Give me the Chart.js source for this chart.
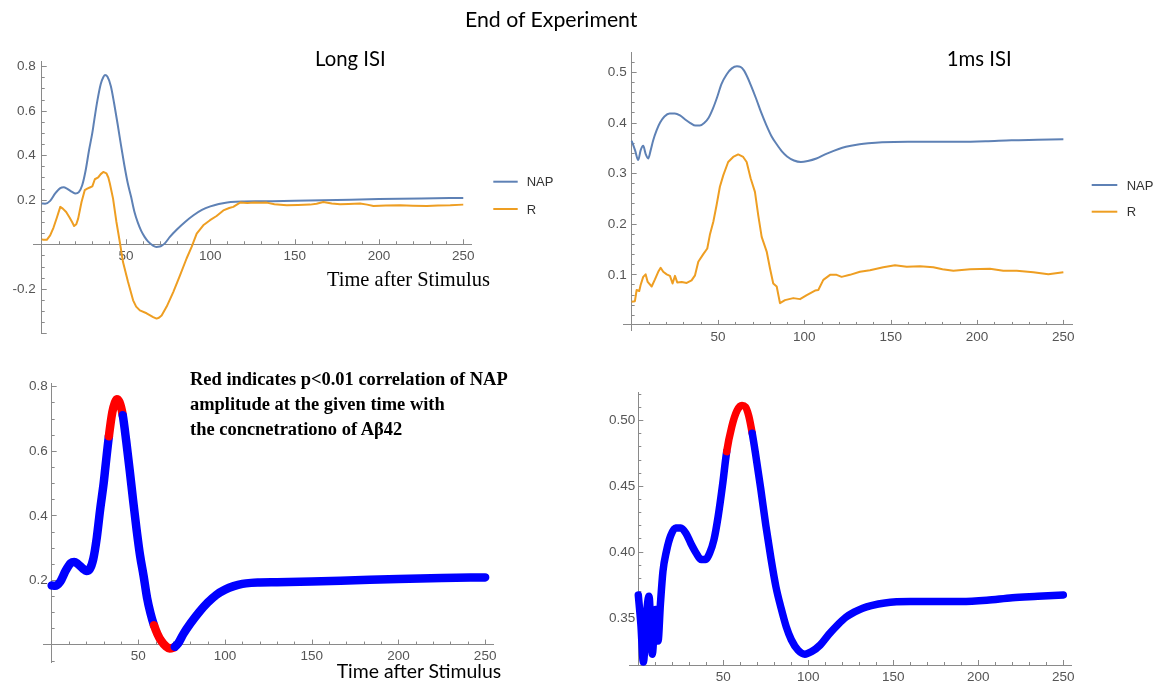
<!DOCTYPE html>
<html><head><meta charset="utf-8">
<script src="https://cdn.jsdelivr.net/npm/chart.js@4.4.1/dist/chart.umd.min.js"></script>
<style>
html,body{margin:0;padding:0;background:#fff;width:1163px;height:684px;overflow:hidden}
.panel{position:absolute}
#overlay{position:absolute;left:0;top:0;width:1163px;height:684px;pointer-events:none}
</style></head><body>
<div class="panel" id="p1"><canvas></canvas></div>
<div class="panel" id="p2"><canvas></canvas></div>
<div class="panel" id="p3"><canvas></canvas></div>
<div class="panel" id="p4"><canvas></canvas></div>
<svg id="overlay" xmlns="http://www.w3.org/2000/svg" width="1163" height="684"></svg>
<script>
// ---------------- data ----------------
const SERIES_NAMES = ['NAP', 'R'];

// Long ISI, NAP
const TIME_NAP_LONG = [0,2,5,8,11,13,15,18,20,22,24,26,28,30,31,33,35,36.5,37.5,39,41,43,45,47,49,51,53,55,57,59,61,63,66,68,70,71,73,76,80,85,90,95,100,105,110,115,120,130,150,175,200,225,250];
const NAP_LONG = [0.183,0.182,0.195,0.228,0.252,0.256,0.25,0.235,0.228,0.234,0.265,0.33,0.42,0.50,0.55,0.645,0.72,0.75,0.76,0.752,0.71,0.63,0.54,0.445,0.355,0.275,0.213,0.145,0.097,0.06,0.033,0.013,-0.006,-0.012,-0.01,-0.007,0.004,0.033,0.065,0.1,0.13,0.154,0.17,0.181,0.188,0.191,0.192,0.193,0.195,0.199,0.203,0.206,0.208];

// Long ISI, R
const TIME_R_LONG = [0,1,3,5,7,9,11,12.5,14.5,16.5,18,19.2,20.5,21.6,23.6,25.5,27,28.5,30,31.5,33.5,35,36.5,38.4,39.5,40.4,42.3,44.3,46.3,48.2,51.2,54.2,56,58.2,62.2,66.1,68.1,69.5,71.1,74.1,78,82,85.9,88.9,91.9,95.8,99.8,103.7,107.7,111.2,113.6,117.6,122,126,130,133.4,138,145.3,152,159.1,163,167,172,176.9,182,188.8,193,196.7,204,212.6,220,228.4,235,242.3,250];
const R_LONG = [0.022,0.02,0.02,0.04,0.075,0.12,0.168,0.16,0.145,0.12,0.1,0.082,0.09,0.115,0.19,0.243,0.25,0.255,0.26,0.292,0.3,0.315,0.325,0.318,0.3,0.273,0.205,0.1,0.01,-0.08,-0.17,-0.252,-0.28,-0.297,-0.31,-0.327,-0.334,-0.33,-0.32,-0.28,-0.215,-0.14,-0.064,-0.012,0.048,0.085,0.108,0.127,0.152,0.163,0.168,0.187,0.185,0.188,0.186,0.187,0.18,0.175,0.176,0.178,0.182,0.19,0.183,0.18,0.181,0.183,0.178,0.172,0.174,0.175,0.173,0.172,0.174,0.175,0.178];

// 1ms ISI, NAP: early wiggle as drawn in the top panel / bottom panel, then shared tail
const TIME_NAP_1MS_START_TOP = [0,2,3.8,5.2,6.7,8.2,9.6,11,12.5];
const NAP_1MS_START_TOP = [0.364,0.345,0.326,0.345,0.354,0.337,0.329,0.345,0.365];
const TIME_NAP_1MS_START_BOTTOM = [0,1.5,3,4.8,6.3,8.2,10.2,11.6,13];
const NAP_1MS_START_BOTTOM = [0.367,0.345,0.316,0.352,0.366,0.322,0.356,0.332,0.36];
const TIME_NAP_1MS_TAIL = [14.5,16.5,19,22,25,28,31,34,37,39.5,42,44.5,47,49.5,52,55,58,61,63,65,67,69,72,75,78,81,84,87,90,94,98,102,107,112,117,122,127,132,137,145,160,175,190,205,220,235,250];
const NAP_1MS_TAIL = [0.385,0.4,0.412,0.418,0.418,0.414,0.406,0.399,0.394,0.394,0.399,0.409,0.427,0.45,0.476,0.495,0.507,0.511,0.51,0.503,0.49,0.474,0.448,0.42,0.395,0.373,0.357,0.343,0.333,0.325,0.322,0.324,0.329,0.337,0.344,0.35,0.354,0.357,0.359,0.361,0.362,0.362,0.362,0.363,0.365,0.366,0.367];

// 1ms ISI, R
const TIME_R_1MS = [0,1.9,2.9,4.4,5.2,6.7,8.1,9.3,11.6,13.5,15.4,16.8,18.3,20.3,22.2,23.7,25.1,26.4,29,31.9,34.7,36.7,38.6,41.5,43.8,45.3,47.3,49.2,51.1,53.1,55.9,58.8,61.7,64.6,66.6,68.9,71.4,73.3,75.3,78.2,80.1,82,84,85.9,88.8,93.6,97.5,101.4,106.2,108.1,111,114.9,118.7,121.6,126.4,132.2,138,145.7,152.5,159.3,167,174.7,180,186.3,196,207.5,215.2,223,232.6,241.3,250];
const R_1MS = [0.046,0.047,0.069,0.067,0.079,0.095,0.1,0.085,0.076,0.09,0.105,0.113,0.105,0.1,0.097,0.082,0.097,0.084,0.085,0.083,0.088,0.098,0.125,0.14,0.151,0.178,0.204,0.237,0.273,0.296,0.322,0.332,0.337,0.332,0.322,0.29,0.263,0.217,0.174,0.145,0.112,0.082,0.076,0.043,0.049,0.053,0.051,0.059,0.068,0.069,0.089,0.099,0.099,0.095,0.099,0.105,0.108,0.114,0.118,0.115,0.116,0.114,0.11,0.107,0.11,0.111,0.107,0.107,0.104,0.1,0.104];

// time windows where the correlation is significant (red)
const SIGNIFICANT_LONG = [[33, 41], [59, 71]];
const SIGNIFICANT_1MS = [[52, 67]];

// tick labels
const X_TICKS = [50, 100, 150, 200, 250];
const X_TICK_LABELS = ['50', '100', '150', '200', '250'];
const Y_TICKS_P1 = [-0.2, 0.2, 0.4, 0.6, 0.8];
const Y_TICK_LABELS_P1 = ['-0.2', '0.2', '0.4', '0.6', '0.8'];
const Y_TICKS_P2 = [0.1, 0.2, 0.3, 0.4, 0.5];
const Y_TICK_LABELS_P2 = ['0.1', '0.2', '0.3', '0.4', '0.5'];
const Y_TICKS_P3 = [0.2, 0.4, 0.6, 0.8];
const Y_TICK_LABELS_P3 = ['0.2', '0.4', '0.6', '0.8'];
const Y_TICKS_P4 = [0.35, 0.40, 0.45, 0.50];
const Y_TICK_LABELS_P4 = ['0.35', '0.40', '0.45', '0.50'];

// ---------------- styles ----------------
const NAP_COLOR = '#5E81B5';
const R_COLOR = '#EE9E22';
const SIG_COLOR = '#FF0000';
const NONSIG_COLOR = '#0000FF';
const AXIS_COLOR = '#8a8a8a';
const LABEL_COLOR = '#555555';
const TICK_FONT = {family: 'Liberation Sans, Arial, sans-serif', size: 13.5};

const pts = (xs, ys) => xs.map((x, i) => ({x, y: ys[i]}));
const inWindows = (wins) => (ctx) => wins.some(([a, b]) => ctx.p0.parsed.x >= a - 1e-9 && ctx.p1.parsed.x <= b + 1e-9) ? SIG_COLOR : NONSIG_COLOR;

// Mathematica-style inward ticks on axes crossing inside the frame, plus y labels left of the y axis
const axisTicks = {
  id: 'axisTicks',
  beforeDatasetsDraw(chart, args, o) {
    const {ctx} = chart;
    const xs = chart.scales.x, ys = chart.scales.y;
    const yAxisPx = xs.getPixelForValue(0);
    const xAxisPx = ys.getPixelForValue(o.xAt);
    ctx.save();
    ctx.strokeStyle = AXIS_COLOR;
    ctx.lineWidth = 1;
    ctx.beginPath();
    const k0 = Math.ceil(xs.min / o.xMinor - 1e-9), k1 = Math.floor(xs.max / o.xMinor + 1e-9);
    for (let k = k0; k <= k1; k++) {
      const v = k * o.xMinor;
      if (k === 0) continue;
      const major = Math.abs(v / o.xMajor - Math.round(v / o.xMajor)) < 1e-6;
      const len = major ? 5 : 3;
      const px = Math.round(xs.getPixelForValue(v)) + 0.5;
      ctx.moveTo(px, xAxisPx); ctx.lineTo(px, xAxisPx - len);
    }
    const j0 = Math.ceil(ys.min / o.yMinor - 1e-9), j1 = Math.floor(ys.max / o.yMinor + 1e-9);
    for (let j = j0; j <= j1; j++) {
      const v = j * o.yMinor;
      if (Math.abs(v - o.xAt) < 1e-9) continue;
      const major = Math.abs(v / o.yMajor - Math.round(v / o.yMajor)) < 1e-6;
      const len = major ? 5 : 3;
      const py = Math.round(ys.getPixelForValue(v)) + 0.5;
      ctx.moveTo(yAxisPx, py); ctx.lineTo(yAxisPx + len, py);
    }
    ctx.stroke();
    // y tick labels (generated by the scale), right-aligned left of the y axis
    ctx.fillStyle = LABEL_COLOR;
    ctx.font = `${TICK_FONT.size}px ${TICK_FONT.family}`;
    ctx.textAlign = 'right';
    ctx.textBaseline = 'middle';
    ys.ticks.forEach(t => {
      ctx.fillText(t.label, yAxisPx - o.yPad, ys.getPixelForValue(t.value) + 0.5);
    });
    ctx.restore();
  }
};

function makePanel(id, cfg) {
  const {box, area} = cfg;
  const div = document.getElementById(id);
  Object.assign(div.style, {left: box.l + 'px', top: box.t + 'px', width: box.w + 'px', height: box.h + 'px'});
  const padding = {left: area.l - box.l, top: area.t - box.t, right: box.l + box.w - area.r, bottom: box.t + box.h - area.b};
  return new Chart(div.querySelector('canvas'), {
    type: 'line',
    data: {datasets: cfg.datasets},
    options: {
      responsive: true, maintainAspectRatio: false, animation: false,
      layout: {padding},
      events: [],
      plugins: {legend: {display: false}, tooltip: {enabled: false}, title: {display: false}, axisTicks: cfg.ticks},
      elements: {point: {radius: 0}},
      scales: {
        x: {
          type: 'linear', min: cfg.x[0], max: cfg.x[1], bounds: 'data', position: {y: cfg.ticks.xAt},
          grid: {display: true, drawOnChartArea: false, drawTicks: false},
          border: {display: true, color: AXIS_COLOR, width: 1},
          afterBuildTicks: s => { s.ticks = X_TICKS.map(v => ({value: v})); },
          ticks: {autoSkip: false, maxRotation: 0, padding: cfg.xPad, color: LABEL_COLOR, font: TICK_FONT,
                  callback: (v, i) => X_TICK_LABELS[i]}
        },
        y: {
          type: 'linear', min: cfg.y[0], max: cfg.y[1], bounds: 'data', position: {x: 0},
          grid: {display: true, drawOnChartArea: false, drawTicks: false},
          border: {display: true, color: AXIS_COLOR, width: 1},
          afterBuildTicks: s => { s.ticks = cfg.yTicks.map(v => ({value: v})); },
          ticks: {display: false, autoSkip: false, callback: (v, i) => cfg.yLabels[i]}
        }
      }
    },
    plugins: [axisTicks]
  });
}

// top-left: Long ISI, NAP and R
makePanel('p1', {
  box: {l: 0, t: 40, w: 490, h: 310}, area: {l: 33.3, t: 61.7, r: 471.7, b: 333.3},
  x: [-5, 255], y: [-0.40, 0.82], xPad: 4,
  yTicks: Y_TICKS_P1, yLabels: Y_TICK_LABELS_P1,
  ticks: {xAt: 0, xMinor: 10, xMajor: 50, yMinor: 0.05, yMajor: 0.2, yPad: 6},
  datasets: [
    {label: SERIES_NAMES[1], data: pts(TIME_R_LONG, R_LONG), borderColor: R_COLOR, borderWidth: 2, tension: 0, borderJoinStyle: 'round'},
    {label: SERIES_NAMES[0], data: pts(TIME_NAP_LONG, NAP_LONG), borderColor: NAP_COLOR, borderWidth: 2, cubicInterpolationMode: 'monotone'}
  ]
});

// top-right: 1ms ISI, NAP and R
makePanel('p2', {
  box: {l: 580, t: 40, w: 500, h: 320}, area: {l: 623, t: 52.7, r: 1072, b: 330},
  x: [-5, 255], y: [-0.01, 0.538], xPad: 4,
  yTicks: Y_TICKS_P2, yLabels: Y_TICK_LABELS_P2,
  ticks: {xAt: 0, xMinor: 10, xMajor: 50, yMinor: 0.02, yMajor: 0.1, yPad: 5},
  datasets: [
    {label: SERIES_NAMES[1], data: pts(TIME_R_1MS, R_1MS), borderColor: R_COLOR, borderWidth: 2, tension: 0, borderJoinStyle: 'round'},
    {label: SERIES_NAMES[0], data: pts(TIME_NAP_1MS_START_TOP.concat(TIME_NAP_1MS_TAIL), NAP_1MS_START_TOP.concat(NAP_1MS_TAIL)),
     borderColor: NAP_COLOR, borderWidth: 2, cubicInterpolationMode: 'monotone'}
  ]
});

// bottom-left: Long ISI NAP, coloured by significance
makePanel('p3', {
  box: {l: 0, t: 360, w: 510, h: 324}, area: {l: 43, t: 383, r: 493.8, b: 662},
  x: [-5, 255], y: [-0.054, 0.81], xPad: 4,
  yTicks: Y_TICKS_P3, yLabels: Y_TICK_LABELS_P3,
  ticks: {xAt: 0, xMinor: 10, xMajor: 50, yMinor: 0.05, yMajor: 0.2, yPad: 4},
  datasets: [
    {label: SERIES_NAMES[0], data: pts(TIME_NAP_LONG, NAP_LONG), borderColor: NONSIG_COLOR, borderWidth: 8.5,
     cubicInterpolationMode: 'monotone', borderJoinStyle: 'round', borderCapStyle: 'round',
     segment: {borderColor: inWindows(SIGNIFICANT_LONG)}}
  ]
});

// bottom-right: 1ms ISI NAP, coloured by significance
makePanel('p4', {
  box: {l: 580, t: 380, w: 500, h: 304}, area: {l: 629.8, t: 392.7, r: 1071.8, b: 665},
  x: [-5, 255], y: [0.3138, 0.5208], xPad: 4,
  yTicks: Y_TICKS_P4, yLabels: Y_TICK_LABELS_P4,
  ticks: {xAt: 0.3138, xMinor: 10, xMajor: 50, yMinor: 0.01, yMajor: 0.05, yPad: 3},
  datasets: [
    {label: SERIES_NAMES[0], data: pts(TIME_NAP_1MS_START_BOTTOM.concat(TIME_NAP_1MS_TAIL), NAP_1MS_START_BOTTOM.concat(NAP_1MS_TAIL)),
     borderColor: NONSIG_COLOR, borderWidth: 7.5, clip: 3,
     cubicInterpolationMode: 'monotone', borderJoinStyle: 'round', borderCapStyle: 'round',
     segment: {borderColor: inWindows(SIGNIFICANT_1MS)}}
  ]
});

// ---------------- text overlay ----------------
const NS = 'http://www.w3.org/2000/svg';
const svg = document.getElementById('overlay');
const mctx = document.createElement('canvas').getContext('2d');
function fitSize(str, fam, weight, width) {
  mctx.font = `${weight} 100px ${fam}`;
  return 100 * width / mctx.measureText(str).width;
}
function addText(str, x, y, fam, weight, size, fill) {
  const t = document.createElementNS(NS, 'text');
  t.setAttribute('x', x); t.setAttribute('y', y);
  t.setAttribute('font-family', fam); t.setAttribute('font-weight', weight);
  t.setAttribute('font-size', size.toFixed(2)); t.setAttribute('fill', fill || '#000');
  t.textContent = str; svg.appendChild(t); return t;
}
function addLine(x1, x2, y, color) {
  const l = document.createElementNS(NS, 'line');
  l.setAttribute('x1', x1); l.setAttribute('x2', x2); l.setAttribute('y1', y); l.setAttribute('y2', y);
  l.setAttribute('stroke', color); l.setAttribute('stroke-width', 2);
  svg.appendChild(l);
}
const SANS = 'Lato';
const SERIF = 'Liberation Serif';
const ARIAL = 'Liberation Sans';
const fitted = (str, x, y, w, fam, weight) => addText(str, x, y, fam, weight, fitSize(str, fam, weight, w));

fitted('End of Experiment', 465, 26.7, 173, SANS, 400);
fitted('Long ISI', 315, 66, 70.7, SANS, 400);
fitted('1ms ISI', 946.7, 66, 65, SANS, 400);
fitted('Time after Stimulus', 327, 286, 163, SERIF, 400);
fitted('Time after Stimulus', 336.7, 678.3, 165, SANS, 400);

const NOTE = ['Red indicates p<0.01 correlation of NAP', 'amplitude at the given time with', 'the concnetrationo of A\u03B242'];
const noteSize = fitSize(NOTE[0], SERIF, 700, 318);
NOTE.forEach((s, i) => addText(s, 190, 385 + 25 * i, SERIF, 700, noteSize));

// legends
[[493.3, 517.7, 526.7, 181.7, 209], [1091.7, 1117.3, 1126.7, 185, 211.7]].forEach(([a, b, tx, y1, y2]) => {
  addLine(a, b, y1, NAP_COLOR);
  addLine(a, b, y2, R_COLOR);
  addText(SERIES_NAMES[0], tx, y1 + 4.7, ARIAL, 400, 13, '#333');
  addText(SERIES_NAMES[1], tx, y2 + 4.7, ARIAL, 400, 13, '#333');
});
</script>
</body></html>
